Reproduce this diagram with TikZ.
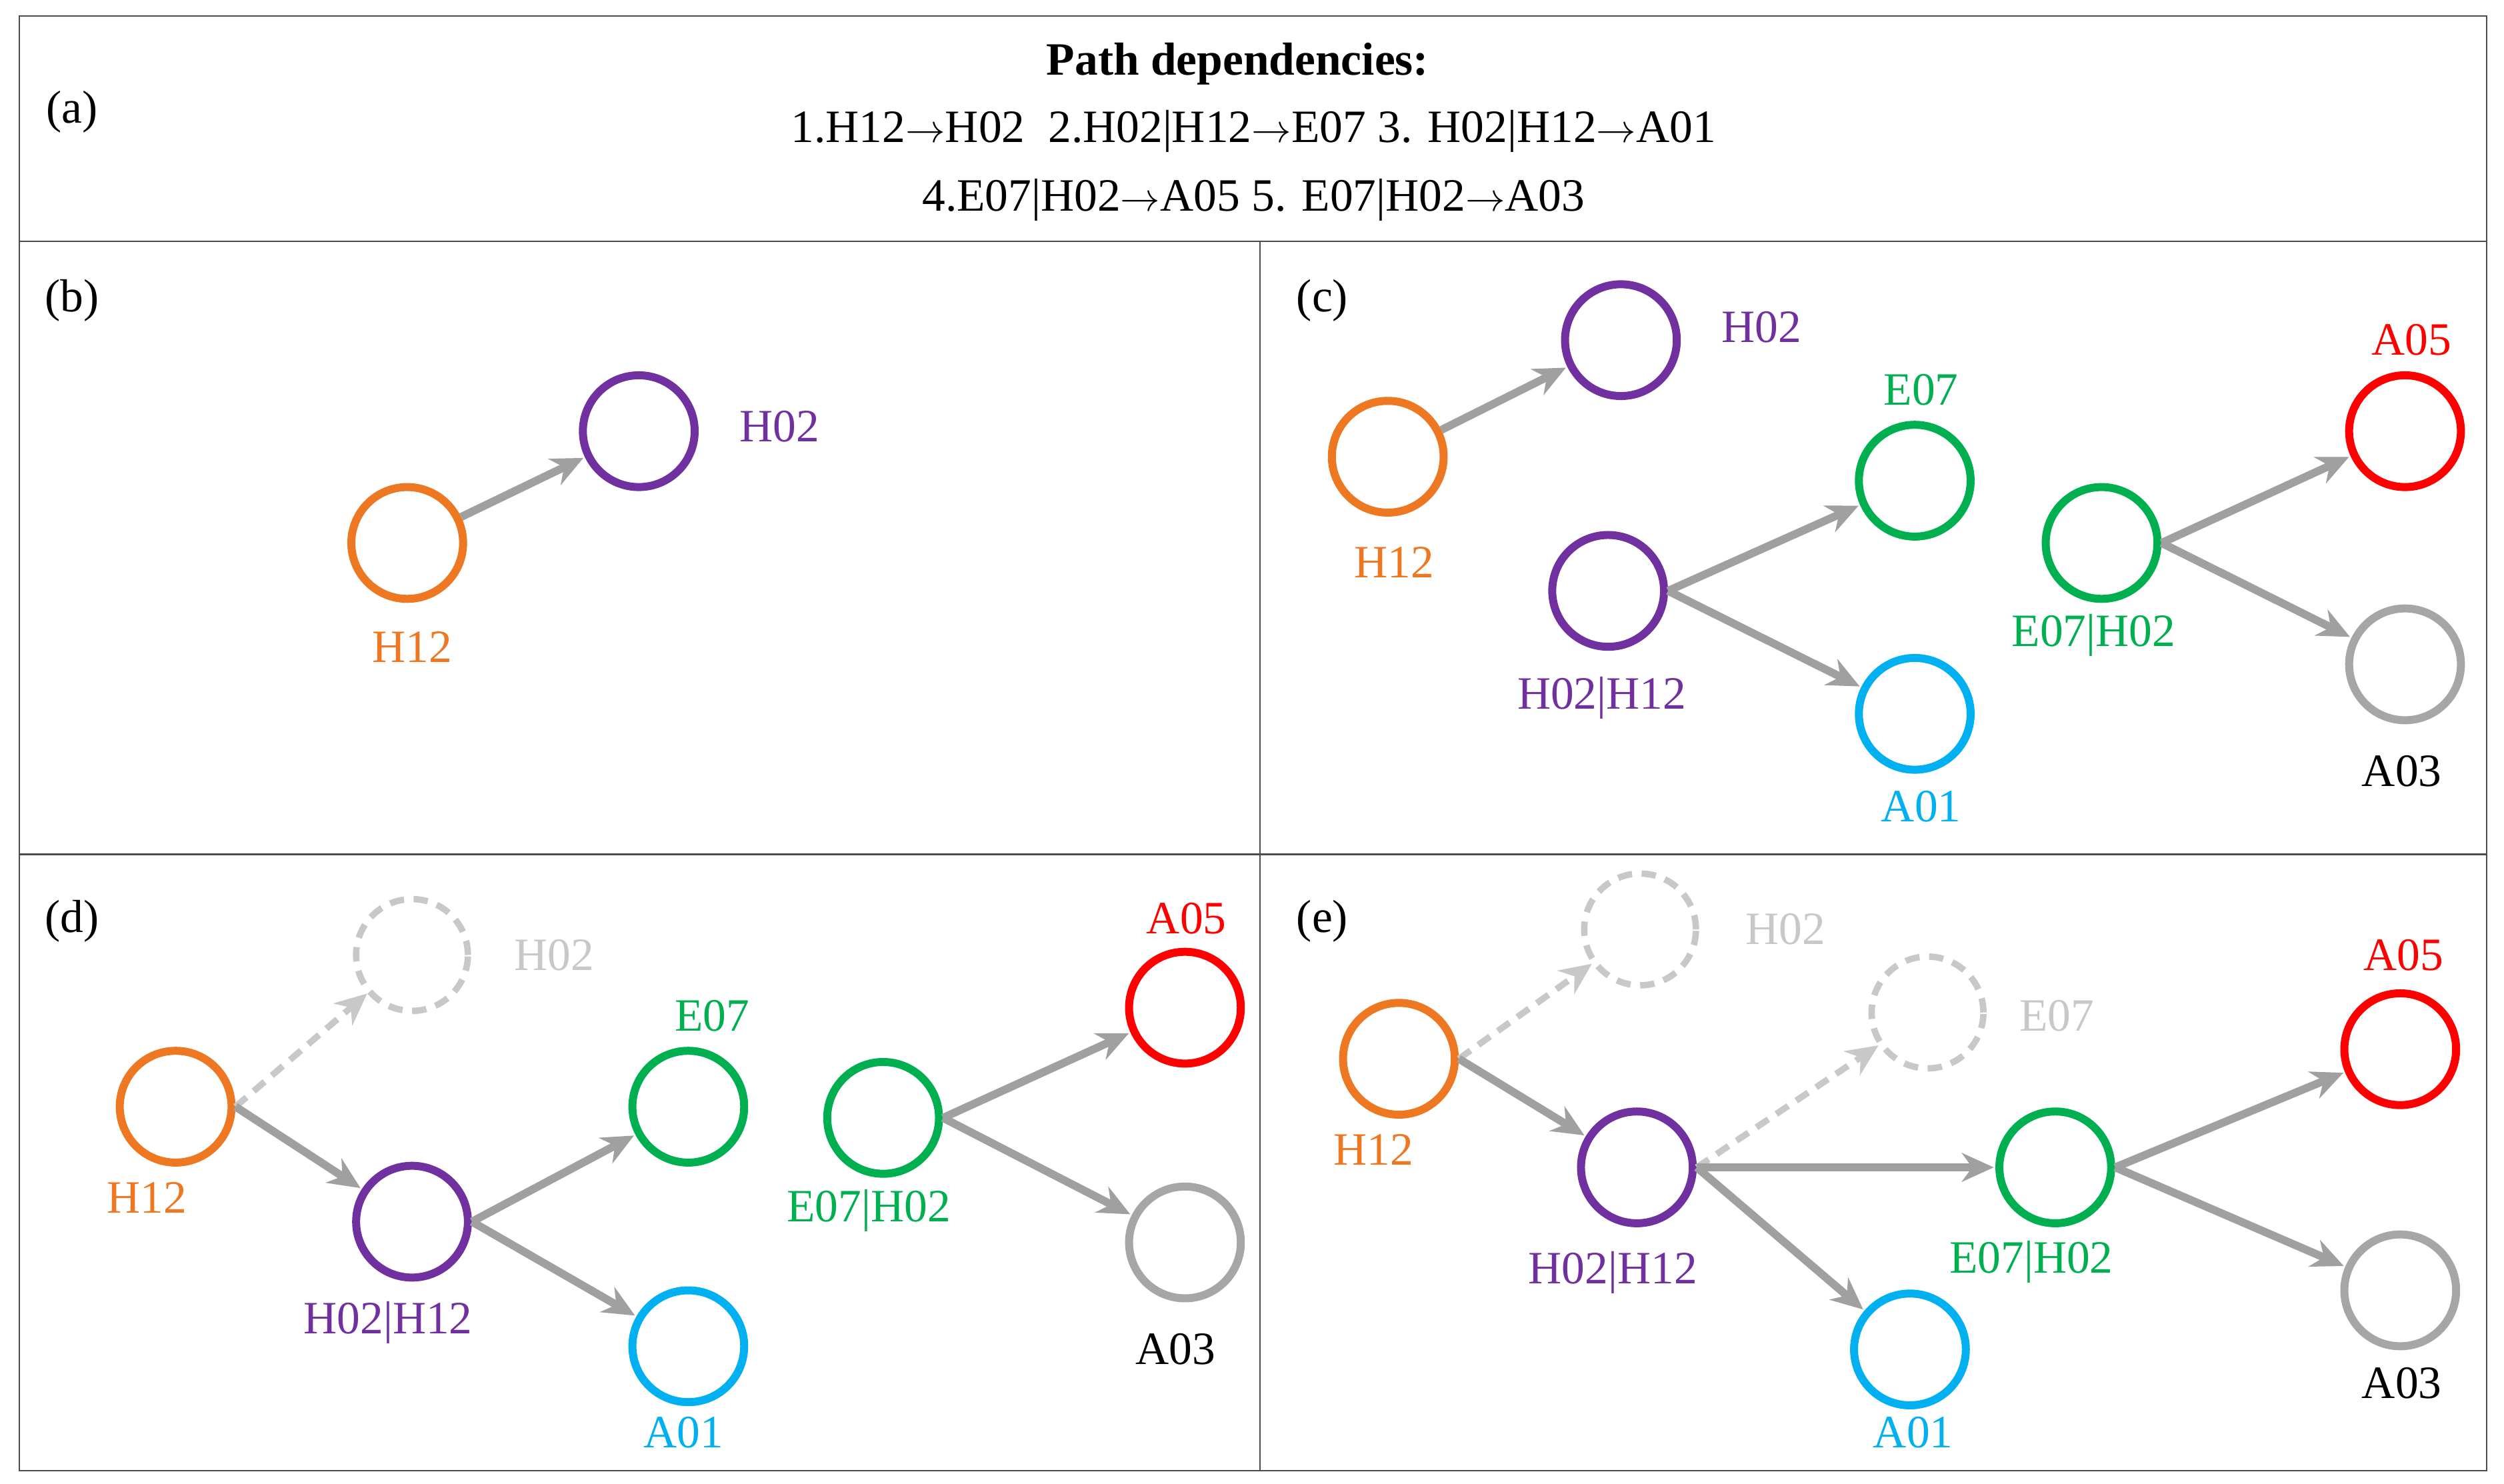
\documentclass[tikz,border=0pt]{standalone}
\usepackage{fontspec}
\setmainfont{Liberation Serif}
\usetikzlibrary{arrows.meta}
\definecolor{cor}{HTML}{EE7722}
\definecolor{cpu}{HTML}{7030A0}
\definecolor{cgr}{HTML}{00B050}
\definecolor{cbl}{HTML}{00B0F0}
\definecolor{cre}{HTML}{FF0000}
\definecolor{cgy}{HTML}{A6A6A6}
\definecolor{cdl}{HTML}{C8C8C8}
\definecolor{carr}{HTML}{A0A0A0}
\begin{document}
\begin{tikzpicture}[x=1pt,y=-1pt,
 every node/.style={font=\fontsize{29}{33}\selectfont},
 nd/.style={draw=#1,circle,line width=5pt,minimum size=70pt,inner sep=0pt},
 dn/.style={draw=cdl,circle,line width=4pt,minimum size=70pt,inner sep=0pt,dash pattern=on 9pt off 6pt},
 lb/.style={text=#1,inner sep=0pt},
 ar/.style={draw=carr,line width=5pt,-{Stealth[length=20pt,width=18pt]},shorten >=1pt},
 da/.style={draw=cdl,line width=4pt,dash pattern=on 9pt off 6pt,-{Stealth[length=20pt,width=18pt]}},
 fr/.style={draw=black!70,line width=1pt}]
\useasboundingbox (0,0) rectangle (1568,929);
\draw[fr] (12,10) rectangle (1557,921);
\draw[fr] (12,151) -- (1557,151);
\draw[fr] (12,535) -- (1557,535);
\draw[fr] (789,151) -- (789,921);
% (a)
\node[lb=black] (la) at (45,70) {(a)};
\node[lb=black,font=\fontsize{29}{33}\selectfont\bfseries] (t0) at (775,40) {Path dependencies:};
\node[lb=black] (t1) at (785,82) {1.H12$\rightarrow$H02\ \ 2.H02|H12$\rightarrow$E07 3. H02|H12$\rightarrow$A01};
\node[lb=black] (t2) at (785,125) {4.E07|H02$\rightarrow$A05 5. E07|H02$\rightarrow$A03};
% (b)
\node[lb=black] (lbb) at (45,188) {(b)};
\node[nd=cor] (b1) at (255,340) {};
\node[nd=cpu] (b2) at (400,270) {};
\node[lb=cor] at (258,405) {H12};
\node[lb=cpu] at (488,267) {H02};
\draw[ar] (b1) -- (b2);
% (c)
\node[lb=black] (lc) at (828,188) {(c)};
\node[nd=cpu] (c1) at (1015,213) {};
\node[nd=cor] (c2) at (869,286) {};
\node[nd=cpu] (c3) at (1007,370) {};
\node[nd=cgr] (c4) at (1199,301) {};
\node[nd=cbl] (c5) at (1199,447) {};
\node[nd=cgr] (c6) at (1316,340) {};
\node[nd=cre] (c7) at (1506,270) {};
\node[nd=cgy] (c8) at (1506,416) {};
\node[lb=cpu] at (1103,205) {H02};
\node[lb=cor] at (873,352) {H12};
\node[lb=cpu] at (1003,437) {H02|H12};
\node[lb=cgr] at (1203,244) {E07};
\node[lb=cbl] at (1203,505) {A01};
\node[lb=cgr] at (1311,398) {E07|H02};
\node[lb=cre] at (1510,213) {A05};
\node[lb=black] at (1504,483) {A03};
\draw[ar] (c2) -- (c1);
\draw[ar] (c3.east) -- (c4);
\draw[ar] (c3.east) -- (c5);
\draw[ar] (c6.east) -- (c7);
\draw[ar] (c6.east) -- (c8);
% (d)
\node[lb=black] (ld) at (45,577) {(d)};
\node[dn] (d1) at (258,598) {};
\node[nd=cor] (d2) at (110,693) {};
\node[nd=cpu] (d3) at (258,765) {};
\node[nd=cgr] (d4) at (431,693) {};
\node[nd=cbl] (d5) at (431,843) {};
\node[nd=cgr] (d6) at (553,700) {};
\node[nd=cre] (d7) at (742,631) {};
\node[nd=cgy] (d8) at (742,778) {};
\node[lb=cdl] at (347,598) {H02};
\node[lb=cor] at (92,750) {H12};
\node[lb=cpu] at (243,828) {H02|H12};
\node[lb=cgr] at (446,636) {E07};
\node[lb=cbl] at (428,897) {A01};
\node[lb=cgr] at (544,758) {E07|H02};
\node[lb=cre] at (743,575) {A05};
\node[lb=black] at (736,845) {A03};
\draw[da] (d2.east) -- (d1);
\draw[ar] (d2.east) -- (d3);
\draw[ar] (d3.east) -- (d4);
\draw[ar] (d3.east) -- (d5);
\draw[ar] (d6.east) -- (d7);
\draw[ar] (d6.east) -- (d8);
% (e)
\node[lb=black] (le) at (828,577) {(e)};
\node[dn] (e1) at (1027,582) {};
\node[dn] (e2) at (1207,634) {};
\node[nd=cor] (e3) at (876,663) {};
\node[nd=cpu] (e4) at (1025,731) {};
\node[nd=cgr] (e5) at (1287,731) {};
\node[nd=cbl] (e6) at (1196,845) {};
\node[nd=cre] (e7) at (1503,657) {};
\node[nd=cgy] (e8) at (1503,808) {};
\node[lb=cdl] at (1118,582) {H02};
\node[lb=cdl] at (1288,636) {E07};
\node[lb=cor] at (860,720) {H12};
\node[lb=cpu] at (1010,797) {H02|H12};
\node[lb=cgr] at (1272,790) {E07|H02};
\node[lb=cbl] at (1198,897) {A01};
\node[lb=cre] at (1505,598) {A05};
\node[lb=black] at (1504,866) {A03};
\draw[da] (e3.east) -- (e1);
\draw[ar] (e3.east) -- (e4);
\draw[da] (e4.east) -- (e2);
\draw[ar] (e4.east) -- (e5);
\draw[ar] (e4.east) -- (e6);
\draw[ar] (e5.east) -- (e7);
\draw[ar] (e5.east) -- (e8);
\end{tikzpicture}
\end{document}
